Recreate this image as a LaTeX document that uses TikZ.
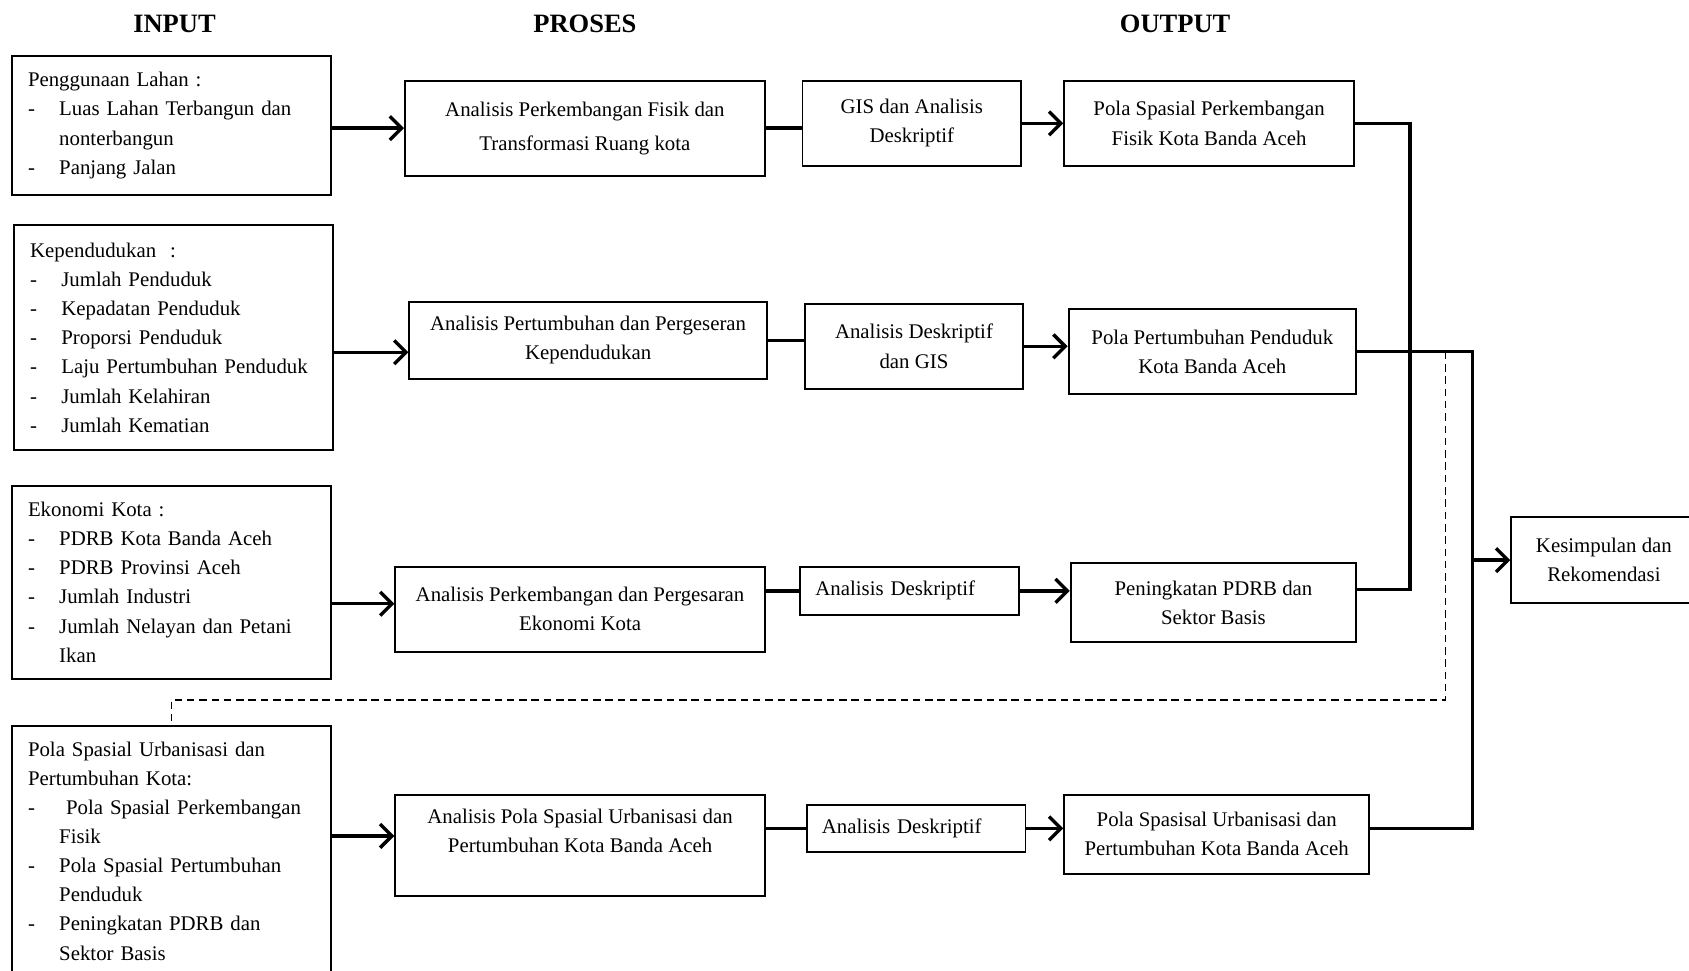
\documentclass[tikz,border=0pt]{standalone}
\usepackage{fontspec}
\setmainfont{Liberation Serif}
\usetikzlibrary{arrows.meta}

\newcommand{\butir}{\makebox[0.58cm][l]{-}}
\newcommand{\lanjut}{\hspace*{0.58cm}}

\begin{document}
\begin{tikzpicture}[x=0.2mm, y=-0.2mm,
	kotak/.style={draw, line width=1pt, inner sep=2pt, align=center, font=\fontsize{11pt}{15.4pt}\selectfont},
	masukan/.style={kotak, align=left, text width=5.32cm, inner xsep=0.3cm},
	metode/.style={kotak, align=left, text width=3.5cm, inner xsep=0.28cm, minimum height=0.9cm},
	judul/.style={font=\fontsize{14pt}{16pt}\selectfont\bfseries},
	garis/.style={line width=1.8pt},
	panah/.style={garis, -{Straight Barb[length=2.2mm, width=4.4mm]}},
	putus/.style={line width=0.8pt, dash pattern=on 4pt off 2.5pt}]
	\useasboundingbox (0,0) rectangle (1568,901);

	\node[judul] (jin) at (162,22) {INPUT};
	\node[judul] (jpr) at (543,22) {PROSES};
	\node[judul] (jout) at (1091,22) {OUTPUT};

	\node[masukan, minimum height=2.58cm] (in1) at (159,116.5) {Penggunaan Lahan :\\ \butir Luas Lahan Terbangun dan\\ \lanjut nonterbangun\\ \butir Panjang Jalan};
	\node[masukan, minimum height=4.18cm] (in2) at (161,313.5) {Kependudukan \ :\\ \butir Jumlah Penduduk\\ \butir Kepadatan Penduduk\\ \butir Proporsi Penduduk\\ \butir Laju Pertumbuhan Penduduk\\ \butir Jumlah Kelahiran\\ \butir Jumlah Kematian};
	\node[masukan, minimum height=3.58cm] (in3) at (159,540.5) {Ekonomi Kota :\\ \butir PDRB Kota Banda Aceh\\ \butir PDRB Provinsi Aceh\\ \butir Jumlah Industri\\ \butir Jumlah Nelayan dan Petani\\ \lanjut Ikan};
	\node[masukan, minimum height=4.64cm] (in4) at (159,790) {Pola Spasial Urbanisasi dan\\ Pertumbuhan Kota:\\ \butir\ Pola Spasial Perkembangan\\ \lanjut Fisik\\ \butir Pola Spasial Pertumbuhan\\ \lanjut Penduduk\\ \butir Peningkatan PDRB dan\\ \lanjut Sektor Basis};

	\node[kotak, minimum width=6.68cm, minimum height=1.76cm, font=\fontsize{11pt}{18pt}\selectfont] (p1) at (543,119) {Analisis Perkembangan Fisik dan\\ Transformasi Ruang kota};
	\node[kotak, minimum width=6.64cm, minimum height=1.44cm] (p2) at (546,316) {Analisis Pertumbuhan dan Pergeseran\\ Kependudukan};
	\node[kotak, minimum width=6.86cm, minimum height=1.58cm] (p3) at (538.5,565.5) {Analisis Perkembangan dan Pergesaran\\ Ekonomi Kota};
	\node[kotak, minimum width=6.86cm, minimum height=1.88cm] (p4) at (538.5,785) {Analisis Pola Spasial Urbanisasi dan\\ Pertumbuhan Kota Banda Aceh\\ ~};

	\node[kotak, minimum width=4.06cm, minimum height=1.58cm] (m1) at (846.5,114.5) {GIS dan Analisis\\ Deskriptif};
	\node[kotak, minimum width=4.06cm, minimum height=1.58cm] (m2) at (848.5,321.5) {Analisis Deskriptif\\ dan GIS};
	\node[metode] (m3) at (844.5,548.5) {Analisis Deskriptif};
	\node[metode, minimum height=0.88cm] (m4) at (850.5,769) {Analisis Deskriptif};

	\node[kotak, minimum width=5.38cm, minimum height=1.58cm] (o1) at (1122.5,114.5) {Pola Spasial Perkembangan\\ Fisik Kota Banda Aceh};
	\node[kotak, minimum width=5.34cm, minimum height=1.58cm] (o2) at (1125.5,326.5) {Pola Pertumbuhan Penduduk\\ Kota Banda Aceh};
	\node[kotak, minimum width=5.30cm, minimum height=1.46cm] (o3) at (1126.5,559.5) {Peningkatan PDRB dan\\ Sektor Basis};
	\node[kotak, minimum width=5.66cm, minimum height=1.46cm] (o4) at (1129.5,774.5) {Pola Spasisal Urbanisasi dan\\ Pertumbuhan Kota Banda Aceh};

	\node[kotak, minimum width=3.44cm, minimum height=1.6cm] (fin) at (1489,520) {Kesimpulan dan\\ Rekomendasi};

	\coordinate (j1) at (1309,547);
	\coordinate (j2) at (1367,520);
	\coordinate (balik) at (1342,650);

	\draw[panah] (in1.east |- p1.west) -- (p1.west);
	\draw[panah] ([yshift=-0.22cm]in2.east |- p2.west) -- ([yshift=-0.22cm]p2.west);
	\draw[panah] ([yshift=0.1cm]in3.east |- p3.west) -- ([yshift=0.1cm]p3.west);
	\draw[panah] ([yshift=0.18cm]in4.east |- p4.west) -- ([yshift=0.18cm]p4.west);

	\draw[garis] (p1.east) -- (p1.east -| m1.west);
	\draw[garis] (p2.east) -- (p2.east -| m2.west);
	\draw[garis] (m3.west -| p3.east) -- (m3.west);
	\draw[garis] (m4.west -| p4.east) -- (m4.west);

	\draw[panah] (m1.east) -- (m1.east -| o1.west);
	\draw[panah] (m2.east) -- (m2.east -| o2.west);
	\draw[panah] (m3.east) -- (m3.east -| o3.west);
	\draw[panah] (m4.east) -- (m4.east -| o4.west);

	\draw[garis] (o1.east) -| (j1) -- (j1 -| o3.east);
	\draw[garis] (o2.east) -| (j2) |- (m4.east -| o4.east);
	\draw[panah] (j2) -- (fin);
	\draw[putus] (o2.east -| balik) -- (balik) -| (in4.north);
\end{tikzpicture}
\end{document}
